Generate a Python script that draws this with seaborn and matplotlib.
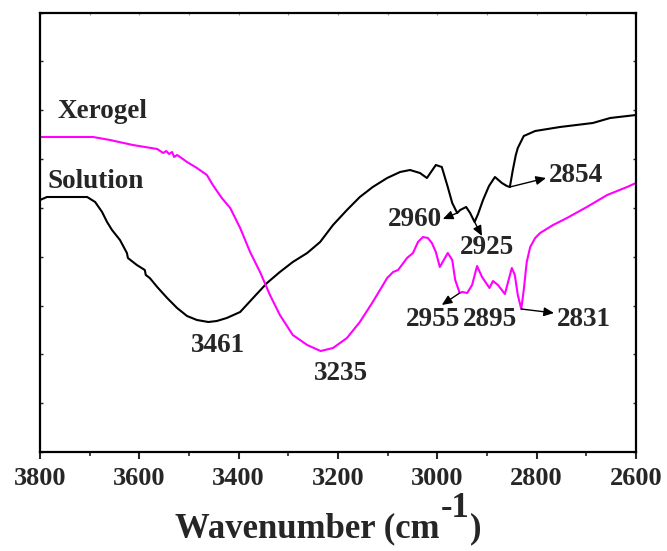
import numpy as np
import pandas as pd
import matplotlib
matplotlib.use("Agg")
import matplotlib.pyplot as plt
import seaborn as sns

# FTIR spectra, C-H / O-H stretching region (transmittance, arbitrary units)
solution_wn = [3800, 3786, 3705, 3689, 3675, 3665, 3655, 3639, 3625, 3623, 3605, 3589,
               3587, 3579, 3564, 3544, 3524, 3504, 3484, 3461, 3444, 3424, 3397, 3371,
               3343, 3317, 3291, 3262, 3236, 3210, 3182, 3156, 3130, 3101, 3075, 3055,
               3035, 3021, 3003, 2991, 2979, 2970, 2960, 2954, 2942, 2934, 2925, 2918,
               2908, 2896, 2884, 2870, 2860, 2854, 2848, 2842, 2838, 2826, 2803, 2753,
               2687, 2652, 2600]
solution_t = [252, 255, 255, 250, 240, 230, 222, 212, 199, 194, 187, 182,
              177, 174, 165, 154, 144, 136, 132, 130, 131, 134, 140, 154,
              169, 180, 190, 199, 210, 227, 242, 255, 265, 274, 280, 282,
              279, 274, 287, 285, 265, 249, 239, 242, 245, 239, 230, 238,
              252, 266, 275, 269, 266, 265, 282, 297, 304, 316, 321, 325,
              329, 334, 337]

xerogel_wn = [3800, 3693, 3659, 3613, 3564, 3552, 3546, 3540, 3534, 3530, 3524, 3518,
              3504, 3484, 3464, 3452, 3434, 3417, 3397, 3377, 3357, 3337, 3317, 3291,
              3262, 3235, 3210, 3182, 3156, 3130, 3101, 3089, 3079, 3061, 3049, 3039,
              3029, 3019, 3011, 3003, 2995, 2987, 2979, 2970, 2964, 2955, 2950, 2940,
              2930, 2920, 2910, 2895, 2888, 2878, 2864, 2850, 2844, 2838, 2831, 2826,
              2820, 2813, 2803, 2793, 2767, 2739, 2699, 2658, 2618, 2600]
xerogel_t = [315, 315, 312, 307, 303, 299, 301, 298, 300, 295, 297, 295,
             290, 284, 277, 267, 254, 244, 224, 200, 180, 157, 137, 117,
             107, 101, 104, 114, 130, 150, 174, 180, 182, 194, 199, 210,
             215, 214, 209, 200, 185, 192, 199, 192, 172, 159, 160, 159,
             167, 186, 175, 164, 171, 167, 158, 184, 177, 157, 143, 162,
             190, 205, 214, 219, 227, 234, 245, 257, 265, 269]

solution_bands = [3461, 2960, 2925, 2854]
xerogel_bands = [3235, 2955, 2895, 2831]

x_ticks = [3800, 3600, 3400, 3200, 3000, 2800, 2600]

df = pd.concat([
    pd.DataFrame({"wavenumber": solution_wn, "T": solution_t, "sample": "Solution"}),
    pd.DataFrame({"wavenumber": xerogel_wn, "T": xerogel_t, "sample": "Xerogel"}),
])

sns.set_theme(style="ticks")
plt.rcParams["font.family"] = ["Liberation Serif", "DejaVu Serif"]
plt.rcParams["font.weight"] = "bold"

fig = plt.figure(figsize=(6.67, 5.51), dpi=100)
ax = fig.add_axes([40 / 667, 99 / 551, 596 / 667, 439.5 / 551])

palette = {"Solution": "#000000", "Xerogel": "#ff00ff"}
sns.lineplot(data=df, x="wavenumber", y="T", hue="sample", palette=palette,
             estimator=None, sort=False, linewidth=1.5, legend=False, ax=ax)

ax.set_xlim(3800, 2600)
ax.set_ylim(0, 439.5)
ax.set_xticks(x_ticks)
ax.set_xticks(np.arange(2700, 3800, 200), minor=True)
ax.set_xticklabels([str(t) for t in x_ticks], fontsize=19, fontweight="bold")
ax.set_yticks(np.linspace(0, 439.5, 10))
ax.set_yticklabels([])
ax.tick_params(axis="x", which="major", direction="out", length=5, width=1.5, pad=6)
ax.tick_params(axis="x", which="minor", direction="out", length=3, width=1.2)
ax.tick_params(axis="y", which="major", direction="in", length=2.5, width=1,
               left=True, right=True)
top = ax.secondary_xaxis("top")
top.set_xticks(np.arange(2600, 3900, 100))
top.set_xticklabels([])
top.tick_params(direction="in", length=2, width=0.8, color="#999999")
top.spines["top"].set_visible(False)

for s in ax.spines.values():
    s.set_linewidth(1.6)
    s.set_color("black")

ax.set_xlabel("")
ax.set_ylabel("")

# Axis title built from pieces so the superscript keeps a plain hyphen
lab_kw = dict(fontsize=25, fontweight="bold", ha="left", va="bottom")
lab = fig.text(175 / 667, 0.01, "Wavenumber (cm", **lab_kw)
sup = ax.annotate("-1", xy=(1, 0), xycoords=lab, xytext=(1, 15),
                  textcoords="offset points", annotation_clip=False, **lab_kw)
ax.annotate(")", xy=(1, 0), xycoords=(sup, lab), xytext=(0.5, 0),
            textcoords="offset points", annotation_clip=False, **lab_kw)


def value_at(wn, t, w):
    return t[wn.index(w)]


txt = dict(fontsize=19.5, fontweight="bold", ha="center", va="center")
arrow = dict(arrowstyle="-|>,head_length=0.5,head_width=0.22", color="black", lw=1.0,
             shrinkA=0, shrinkB=0)

ax.text(3675, 340, "Xerogel", **txt)
ax.text(3689, 271, "Solution", **txt)

# Broad O-H bands
ax.text(3442, 106, str(solution_bands[0]), **txt)
ax.text(3194, 79, str(xerogel_bands[0]), **txt)

# Solution C-H bands
ax.text(3045, 232, str(solution_bands[1]), **txt)
ax.annotate("", xy=(2989, 233),
            xytext=(solution_bands[1], value_at(solution_wn, solution_t, solution_bands[1])),
            arrowprops=arrow)
ax.text(2900, 204, str(solution_bands[2]), **txt)
ax.annotate("", xy=(2910, 216),
            xytext=(solution_bands[2], value_at(solution_wn, solution_t, solution_bands[2])),
            arrowprops=arrow)
ax.text(2721, 276, str(solution_bands[3]), **txt)
ax.annotate("", xy=(2781, 274),
            xytext=(solution_bands[3], value_at(solution_wn, solution_t, solution_bands[3])),
            arrowprops=arrow)

# Xerogel C-H bands
ax.text(3009, 132, str(xerogel_bands[1]), **txt)
ax.annotate("", xy=(2991, 147),
            xytext=(xerogel_bands[1], value_at(xerogel_wn, xerogel_t, xerogel_bands[1])),
            arrowprops=arrow)
ax.text(2894, 132, str(xerogel_bands[2]), **txt)
ax.text(2705, 133, str(xerogel_bands[3]), **txt)
ax.annotate("", xy=(2765, 139),
            xytext=(xerogel_bands[3], value_at(xerogel_wn, xerogel_t, xerogel_bands[3])),
            arrowprops=arrow)

fig.savefig("out.png", dpi=100)
